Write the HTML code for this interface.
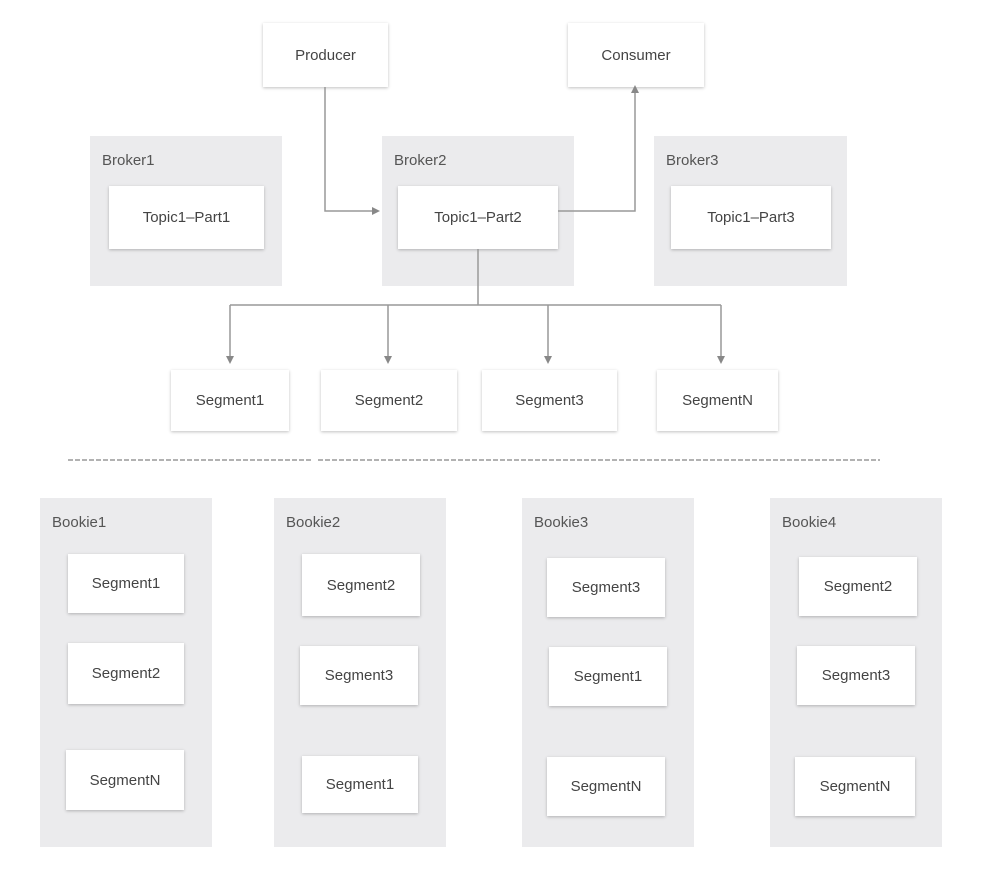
<!DOCTYPE html>
<html><head><meta charset="utf-8"><style>
body{margin:0;width:1000px;height:876px;background:#fff;position:relative;overflow:hidden;font-family:"Liberation Sans",sans-serif;}
.g{position:absolute;background:#ebebed;}
.g span{position:absolute;left:12px;top:16px;font-size:15px;color:#555;}
.b{position:absolute;background:#fff;box-shadow:0 1px 3px rgba(0,0,0,0.25);display:flex;align-items:center;justify-content:center;font-size:15px;color:#444;}
svg{position:absolute;left:0;top:0;}
</style></head><body>
<div class="b" style="left:263px;top:23px;width:125px;height:64px">Producer</div>
<div class="b" style="left:568px;top:23px;width:136px;height:64px">Consumer</div>

<div class="g" style="left:90px;top:136px;width:192px;height:150px"><span>Broker1</span></div>
<div class="g" style="left:382px;top:136px;width:192px;height:150px"><span>Broker2</span></div>
<div class="g" style="left:654px;top:136px;width:193px;height:150px"><span>Broker3</span></div>
<div class="b" style="left:109px;top:186px;width:155px;height:63px">Topic1–Part1</div>
<div class="b" style="left:398px;top:186px;width:160px;height:63px">Topic1–Part2</div>
<div class="b" style="left:671px;top:186px;width:160px;height:63px">Topic1–Part3</div>

<div class="b" style="left:171px;top:370px;width:118px;height:61px">Segment1</div>
<div class="b" style="left:321px;top:370px;width:136px;height:61px">Segment2</div>
<div class="b" style="left:482px;top:370px;width:135px;height:61px">Segment3</div>
<div class="b" style="left:657px;top:370px;width:121px;height:61px">SegmentN</div>

<div class="g" style="left:40px;top:498px;width:172px;height:349px"><span>Bookie1</span></div>
<div class="g" style="left:274px;top:498px;width:172px;height:349px"><span>Bookie2</span></div>
<div class="g" style="left:522px;top:498px;width:172px;height:349px"><span>Bookie3</span></div>
<div class="g" style="left:770px;top:498px;width:172px;height:349px"><span>Bookie4</span></div>

<div class="b" style="left:68px;top:554px;width:116px;height:59px">Segment1</div>
<div class="b" style="left:68px;top:643px;width:116px;height:61px">Segment2</div>
<div class="b" style="left:66px;top:750px;width:118px;height:60px">SegmentN</div>

<div class="b" style="left:302px;top:554px;width:118px;height:62px">Segment2</div>
<div class="b" style="left:300px;top:646px;width:118px;height:59px">Segment3</div>
<div class="b" style="left:302px;top:756px;width:116px;height:57px">Segment1</div>

<div class="b" style="left:547px;top:558px;width:118px;height:59px">Segment3</div>
<div class="b" style="left:549px;top:647px;width:118px;height:59px">Segment1</div>
<div class="b" style="left:547px;top:757px;width:118px;height:59px">SegmentN</div>

<div class="b" style="left:799px;top:557px;width:118px;height:59px">Segment2</div>
<div class="b" style="left:797px;top:646px;width:118px;height:59px">Segment3</div>
<div class="b" style="left:795px;top:757px;width:120px;height:59px">SegmentN</div>

<svg width="1000" height="876">
<g stroke="#999" stroke-width="1.5" fill="none">
<polyline points="325,87 325,211 374,211"/>
<polyline points="558,211 635,211 635,91"/>
<line x1="478" y1="249" x2="478" y2="305"/>
<line x1="230" y1="305" x2="721" y2="305"/>
<line x1="230" y1="305" x2="230" y2="358"/>
<line x1="388" y1="305" x2="388" y2="358"/>
<line x1="548" y1="305" x2="548" y2="358"/>
<line x1="721" y1="305" x2="721" y2="358"/>
<line x1="68" y1="460" x2="312" y2="460" stroke-dasharray="5,2"/>
<line x1="318" y1="460" x2="880" y2="460" stroke-dasharray="5,2"/>
</g>
<g fill="#888">
<polygon points="380,211 372,207 372,215"/>
<polygon points="635,85 631,93 639,93"/>
<polygon points="230,364 226,356 234,356"/>
<polygon points="388,364 384,356 392,356"/>
<polygon points="548,364 544,356 552,356"/>
<polygon points="721,364 717,356 725,356"/>
</g>
</svg>
</body></html>
